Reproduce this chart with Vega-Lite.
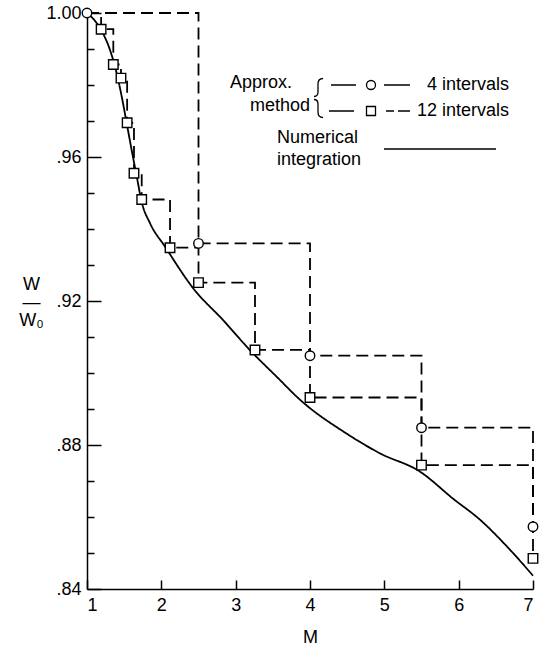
{
  "$schema": "https://vega.github.io/schema/vega-lite/v6.json",
  "width": 446,
  "height": 576,
  "autosize": {"type": "none"},
  "padding": {"left": 87, "top": 13, "right": 7, "bottom": 61},
  "background": "white",
  "config": {
    "font": "Liberation Sans",
    "view": {"stroke": null},
    "axis": {"grid": false, "domainColor": "black", "domainWidth": 1.5, "tickColor": "black", "tickWidth": 1.5, "labelColor": "black", "labelFontSize": 18, "titleColor": "black", "titleFontSize": 18, "titleFontWeight": "normal"},
    "legend": {"padding": 0, "titleColor": "black", "titleFontSize": 18, "titleFontWeight": "normal", "labelColor": "black", "labelFontSize": 18}
  },
  "datasets": {
    "curve": [
      {"M": 1.0, "W": 1.0, "src": "Numerical integration"},
      {"M": 1.175, "W": 0.9958, "src": "Numerical integration"},
      {"M": 1.31, "W": 0.9897, "src": "Numerical integration"},
      {"M": 1.4, "W": 0.9832, "src": "Numerical integration"},
      {"M": 1.467, "W": 0.9768, "src": "Numerical integration"},
      {"M": 1.534, "W": 0.9694, "src": "Numerical integration"},
      {"M": 1.6, "W": 0.962, "src": "Numerical integration"},
      {"M": 1.67, "W": 0.9545, "src": "Numerical integration"},
      {"M": 1.736, "W": 0.9475, "src": "Numerical integration"},
      {"M": 1.848, "W": 0.9416, "src": "Numerical integration"},
      {"M": 2.05, "W": 0.9351, "src": "Numerical integration"},
      {"M": 2.43, "W": 0.9235, "src": "Numerical integration"},
      {"M": 2.83, "W": 0.9147, "src": "Numerical integration"},
      {"M": 3.19, "W": 0.9064, "src": "Numerical integration"},
      {"M": 3.55, "W": 0.899, "src": "Numerical integration"},
      {"M": 3.87, "W": 0.8925, "src": "Numerical integration"},
      {"M": 4.49, "W": 0.8832, "src": "Numerical integration"},
      {"M": 4.94, "W": 0.8777, "src": "Numerical integration"},
      {"M": 5.48, "W": 0.8726, "src": "Numerical integration"},
      {"M": 5.93, "W": 0.865, "src": "Numerical integration"},
      {"M": 6.29, "W": 0.8592, "src": "Numerical integration"},
      {"M": 6.65, "W": 0.8518, "src": "Numerical integration"},
      {"M": 7.0, "W": 0.8437, "src": "Numerical integration"}
    ],
    "steps": [
      {"M": 1.0, "W": 1.0, "series": "4 intervals"},
      {"M": 2.5, "W": 0.936, "series": "4 intervals"},
      {"M": 4.0, "W": 0.9048, "series": "4 intervals"},
      {"M": 5.5, "W": 0.8848, "series": "4 intervals"},
      {"M": 7.0, "W": 0.8573, "series": "4 intervals"},
      {"M": 1.0, "W": 1.0, "series": "12 intervals"},
      {"M": 1.19, "W": 0.9955, "series": "12 intervals"},
      {"M": 1.354, "W": 0.9857, "series": "12 intervals"},
      {"M": 1.457, "W": 0.9819, "series": "12 intervals"},
      {"M": 1.54, "W": 0.9695, "series": "12 intervals"},
      {"M": 1.632, "W": 0.9555, "series": "12 intervals"},
      {"M": 1.736, "W": 0.9482, "series": "12 intervals"},
      {"M": 2.117, "W": 0.9348, "series": "12 intervals"},
      {"M": 2.5, "W": 0.9251, "series": "12 intervals"},
      {"M": 3.26, "W": 0.9064, "series": "12 intervals"},
      {"M": 4.0, "W": 0.8932, "series": "12 intervals"},
      {"M": 5.5, "W": 0.8744, "series": "12 intervals"},
      {"M": 7.0, "W": 0.8485, "series": "12 intervals"}
    ]
  },
  "layer": [
    {
      "data": {"name": "curve"},
      "mark": {"type": "line", "interpolate": "monotone", "color": "black", "strokeWidth": 1.8},
      "encoding": {
        "x": {"field": "M", "type": "quantitative", "scale": {"domain": [1, 7], "nice": false, "zero": false},
          "axis": {"values": [1, 2, 3, 4, 5, 6, 7], "format": "d", "tickSize": -9, "labelPadding": 16, "title": "M", "titlePadding": 14}},
        "y": {"field": "W", "type": "quantitative", "scale": {"domain": [0.84, 1.0], "nice": false, "zero": false},
          "axis": {"values": [0.84, 0.88, 0.92, 0.96, 1.0], "labelExpr": "replace(format(datum.value, '.2f'), '0.', '.')", "tickSize": -14, "labelPadding": 20,
            "title": ["W", "—", "W₀"], "titleAngle": 0, "titleX": -56, "titleY": 271, "titleAlign": "center", "titleBaseline": "middle", "titleLineHeight": 18}},
        "strokeDash": {"field": "src", "type": "nominal", "scale": {"domain": ["Numerical integration"], "range": [[1, 0]]},
          "legend": {"orient": "none", "legendX": 190, "legendY": 116, "title": ["Numerical", "integration"], "titleOrient": "left", "titleAnchor": "start", "titleAlign": "left", "titleBaseline": "top", "titleLineHeight": 22, "titlePadding": 5,
            "symbolType": "M-5.6,0.9H5.6", "symbolSize": 400, "symbolStrokeWidth": 1.5, "symbolStrokeColor": "black", "symbolOffset": 62, "labelExpr": "''"}}
      }
    },
    {
      "data": {"name": "steps"},
      "mark": {"type": "line", "interpolate": "step-after", "color": "black", "strokeWidth": 1.8, "strokeDash": [12, 6]},
      "encoding": {
        "x": {"field": "M", "type": "quantitative"},
        "y": {"field": "W", "type": "quantitative",
          "axis": {"orient": "left", "values": [0.85, 0.86, 0.87, 0.89, 0.9, 0.91, 0.93, 0.94, 0.95, 0.97, 0.98, 0.99], "tickSize": -7, "labels": false, "domain": false, "title": null}},
        "detail": {"field": "series"}
      }
    },
    {
      "data": {"name": "steps"},
      "transform": [{"filter": "datum.M > 1 || datum.series == '4 intervals'"}],
      "mark": {"type": "point", "filled": true, "fill": "white", "stroke": "black", "strokeWidth": 1.4, "size": 90, "opacity": 1},
      "encoding": {
        "x": {"field": "M", "type": "quantitative"},
        "y": {"field": "W", "type": "quantitative", "axis": null},
        "shape": {"field": "series", "type": "nominal", "scale": {"domain": ["4 intervals", "12 intervals"], "range": ["circle", "square"]}, "legend": null}
      }
    },
    {
      "data": {"name": "steps"},
      "transform": [{"filter": "datum.M > 1 || datum.series == '4 intervals'"}],
      "mark": {"type": "point", "filled": false, "color": "black", "strokeWidth": 1.3, "opacity": 0},
      "encoding": {
        "x": {"field": "M", "type": "quantitative"},
        "y": {"field": "W", "type": "quantitative", "axis": null},
        "shape": {"field": "series", "type": "nominal",
          "scale": {"domain": ["4 intervals", "12 intervals"], "range": [
            "M-4.8,-0.65Q-5.3,-0.65,-5.3,-0.1L-5.3,0.7Q-5.3,1.15,-5.7,1.15M-4,0H-1.5M1.3,0H3.9M-0.45,0A0.45,0.45,0,1,0,0.45,0A0.45,0.45,0,1,0,-0.45,0",
            "M-5.7,-1.15Q-5.3,-1.15,-5.3,-0.7L-5.3,0.1Q-5.3,0.65,-4.8,0.65M-4.2,0H-1.7M1.5,0H2.3M2.7,0H3.9M-0.45,-0.45H0.45V0.45H-0.45Z"]},
          "legend": {"orient": "none", "legendX": 143, "legendY": 61, "title": ["Approx.", "\u200b\u00a0\u00a0\u00a0\u00a0method"], "titleOrient": "left", "titleAnchor": "start", "titleAlign": "left", "titleBaseline": "top", "titleLineHeight": 23, "titlePadding": 5,
            "symbolSize": 400, "symbolStrokeWidth": 1.3, "symbolStrokeColor": "black", "symbolFillColor": "transparent", "symbolOpacity": 1, "symbolOffset": 44,
            "labelOffset": 35, "labelExpr": "datum.label == '4 intervals' ? '\u200b\u00a0\u00a04 intervals' : datum.label", "rowPadding": -8.5}}
      }
    }
  ],
  "resolve": {"axis": {"y": "independent"}, "scale": {"shape": "independent"}}
}
